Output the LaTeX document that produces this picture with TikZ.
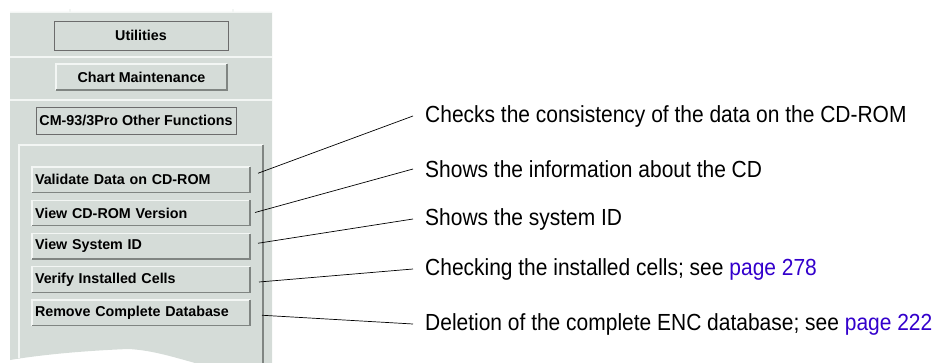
\documentclass[tikz,border=0pt]{standalone}
\usepackage{fontspec}
\setmainfont{Liberation Sans}
\newfontfamily\descfont[FakeStretch=0.9]{Liberation Sans}
\usetikzlibrary{calc, positioning}
\definecolor{panelgray}{RGB}{213,220,216}
\definecolor{hiligray}{RGB}{243,246,244}
\definecolor{lowgray}{RGB}{128,133,130}
\definecolor{linkblue}{RGB}{51,0,204}
\def\panelfillcolor{panelgray}
\def\hilitecolor{hiligray}
\def\lowlitecolor{lowgray}
\def\flatdrawcolor{gray!85!black}
\def\menuwidth{218pt}
\def\menuheight{25.5pt}
\def\menugap{7.75pt}
\def\bevelwidth{1.2pt}
\tikzset{
	% button labels
	btnlabel/.style={
		font=\fontsize{14.3}{16}\selectfont\bfseries,
		text=black,
	},
	% general button
	button/.style={
		shape=rectangle,
		fill=\panelfillcolor,
		btnlabel,
		inner sep=0pt,
		outer sep=0pt,
	},
	% flat button
	flatbtn/.style={
		button,
		draw=\flatdrawcolor,
		line width=0.9pt,
	},
	% raised button
	raisedbtn/.style={
		button,
	},
	% menu entries
	menubtn/.style={
		raisedbtn,
		minimum height=\menuheight,
		minimum width=\menuwidth,
		text width=\menuwidth-6pt,
		inner xsep=3pt,
		align=left,
	},
	% bevels
	hilite/.style={
		draw=\hilitecolor,
		line width=\bevelwidth,
	},
	lowlite/.style={
		draw=\lowlitecolor,
		line width=\bevelwidth,
	},
	% descriptions
	desc/.style={
		anchor=west,
		font=\descfont\fontsize{23.3}{26}\selectfont,
		inner xsep=12pt,
		inner ysep=0pt,
	},
	% leader lines
	leader/.style={
		line width=0.7pt,
		black,
	}
}
\begin{document}
\begin{tikzpicture}[x=1pt, y=-1pt]
	\useasboundingbox (0,0) rectangle (941,363);
	% panel
	\fill[\panelfillcolor] (10,12) -- (272,12) -- (272,363) -- (195,363)
		.. controls (170,356) and (150,350) .. (128,349)
		.. controls (80,351) and (40,355) .. (10,360) -- cycle;
	\draw[hilite] (10,12.5) -- (272,12.5);
	\draw[hilite] (70,9) -- (70,12.5);
	\draw[hilite] (233,9) -- (233,12.5);
	\draw[hilite] (10,57) -- (272,57);
	\draw[hilite] (10,100) -- (272,100);
	% inner frame
	\draw[hilite] (19,358) -- (19,145) -- (263,145);
	\draw[lowlite] (263,145) -- (263,363);
	%
	\node[
		flatbtn,
		minimum width=174pt,
		minimum height=29pt
	] (util) at (141,35.5) {Utilities};
	%
	\node[
		raisedbtn,
		minimum width=171pt,
		minimum height=26pt
	] (chart) at (141.5,77) {Chart Maintenance};
	%
	\node[
		flatbtn,
		minimum width=200pt,
		minimum height=27pt
	] (other) at (136,120.5) {CM-93/3Pro Other Functions};
	%
	\node[
		menubtn,
		anchor=north west
	] (vdata) at (32,167) {Validate Data on CD-ROM};
	%
	\node[
		menubtn,
		anchor=north,
		yshift=-\menugap
	] (vcd) at (vdata.south) {View CD-ROM Version};
	%
	\node[
		menubtn,
		anchor=north,
		yshift=-\menugap
	] (vsys) at (vcd.south) {View System ID};
	%
	\node[
		menubtn,
		anchor=north,
		yshift=-\menugap
	] (vcells) at (vsys.south) {Verify Installed Cells};
	%
	\node[
		menubtn,
		anchor=north,
		yshift=-\menugap
	] (vdb) at (vcells.south) {Remove Complete Database};
	%
	\foreach \b in {chart, vdata, vcd, vsys, vcells, vdb} {
		\draw[hilite] (\b.south west) |- (\b.north east);
		\draw[lowlite] (\b.south west) -| (\b.north east);
	}
	% descriptions
	\node[desc] (ddata) at (413,116) {Checks the consistency of the data on the CD-ROM};
	\node[desc] (dcd) at (413,169) {Shows the information about the CD};
	\node[desc] (dsys) at (413,219) {Shows the system ID};
	\node[desc] (dcells) at (413,269) {Checking the installed cells; see \textcolor{linkblue}{page 278}};
	\node[desc] (ddb) at (413,324) {Deletion of the complete ENC database; see \textcolor{linkblue}{page 222}};
	% leader starts
	\coordinate (ldata) at ([xshift=8pt, yshift=6.5pt]vdata.east);
	\coordinate (lcd) at ([xshift=5pt, yshift=0.5pt]vcd.east);
	\coordinate (lsys) at ([xshift=8pt, yshift=3pt]vsys.east);
	\coordinate (lcells) at ([xshift=9pt, yshift=-2.5pt]vcells.east);
	\coordinate (ldb) at ([xshift=12pt, yshift=-2.5pt]vdb.east);
	%
	\draw[leader] (ldata) -- (ddata.west);
	\draw[leader] (lcd) -- (dcd.west);
	\draw[leader] (lsys) -- (dsys.west);
	\draw[leader] (lcells) -- (dcells.west);
	\draw[leader] (ldb) -- (ddb.west);
\end{tikzpicture}
\end{document}
